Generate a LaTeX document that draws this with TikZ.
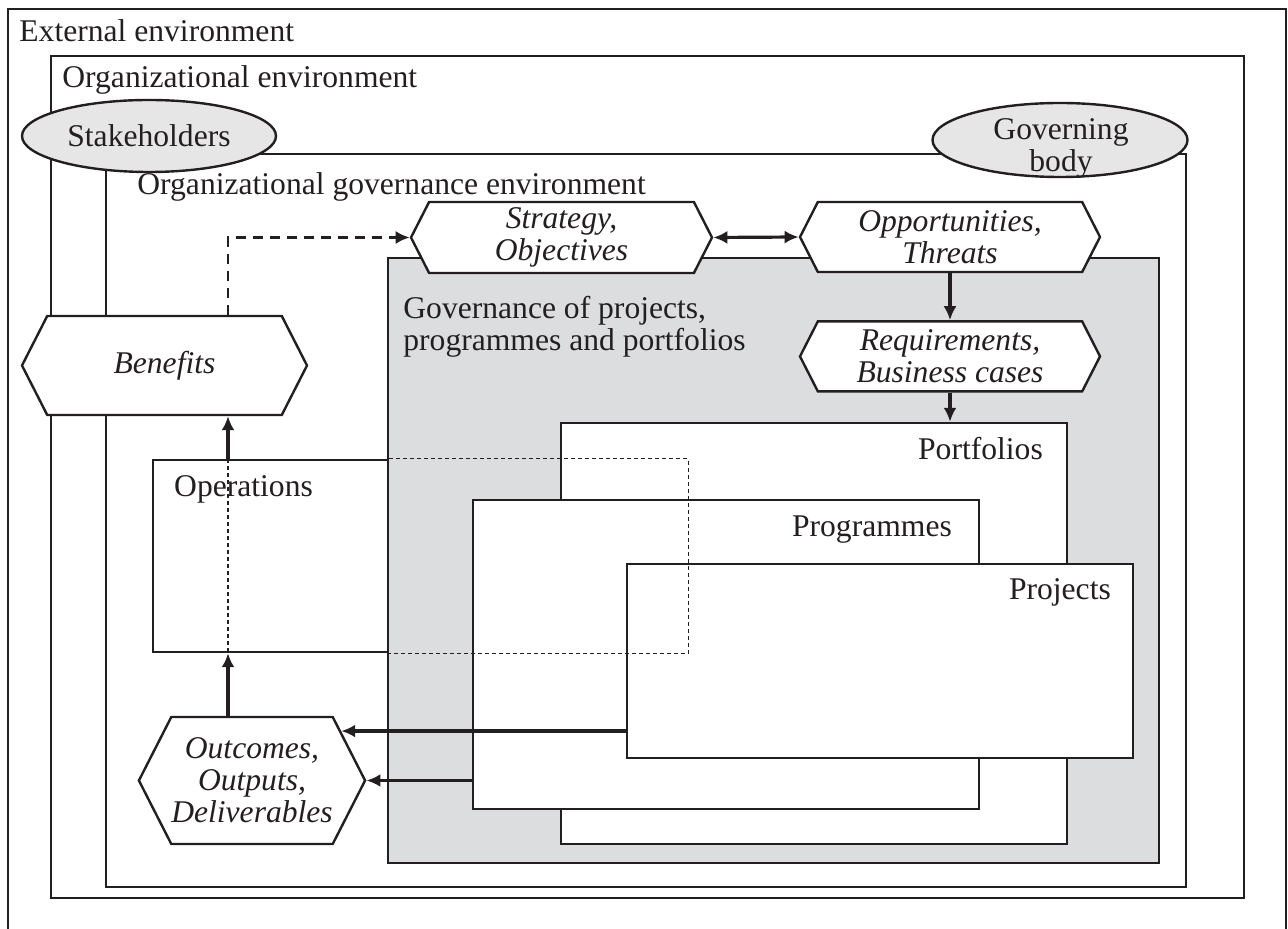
\documentclass[tikz,border=0pt]{standalone}
\usepackage{fontspec}
\setmainfont{Liberation Serif}
\usetikzlibrary{arrows.meta,calc,fit,positioning,shapes.geometric,shapes.symbols}

\definecolor{ink}{HTML}{231F20}
\definecolor{govgray}{HTML}{DCDDDF}
\definecolor{bodygray}{HTML}{E6E6E6}

\tikzset{
  envbox/.style={draw=ink, line width=1.2pt, inner sep=0pt},
  lbl/.style={inner sep=0pt, text=ink, font=\fontsize{15.8}{16}\selectfont},
  hexa/.style={signal, signal to=east and west, signal pointer angle=126,
    draw=ink, line width=1.2pt, fill=white, inner sep=0pt, align=center,
    text=ink, font=\fontsize{15.8}{16}\selectfont\itshape},
  party/.style={ellipse, draw=ink, line width=1.2pt, fill=bodygray, inner sep=0pt,
    text=ink, font=\fontsize{15.8}{16}\selectfont},
  flow/.style={->, draw=ink, line width=1.6pt},
  benefitlink/.style={flow, line width=1.2pt, dash pattern=on 5pt off 3.5pt},
  opsdash/.style={draw=ink, line width=0.6pt, dash pattern=on 2pt off 1.5pt},
}

\begin{document}
\begin{tikzpicture}[x=0.5pt, y=-0.5pt, >={Latex[length=7pt,width=6.5pt]}]
\path[use as bounding box, clip] (0,0) rectangle (1288,929);

% Environments
\node[envbox, fit={(8,9) (1286,940)}] (extenv) {};
\node[envbox, fit={(51,56) (1244,898)}] (orgenv) {};
\node[envbox, fit={(106,154) (1186,887)}] (govenv) {};
\node[envbox, fill=govgray, fit={(388,258) (1159,863)}] (govppp) {};

% Portfolios, programmes, projects
\node[envbox, fill=white, fit={(561,423) (1067,844)}] (portf) {};
\node[envbox, fill=white, fit={(473,500) (979,809)}] (progr) {};
\node[envbox, fill=white, fit={(627,564) (1133,758)}] (proj) {};

% Operations, partly dashed
\node[envbox, fill=white, fit={(153,460) (388,652)}] (ops) {};
\coordinate (spine) at (228,0);
\draw[opsdash] (ops.north east) -- ++(299,0) |- (ops.south east);
\draw[opsdash] (spine |- ops.north) -- (spine |- ops.south);

% Hexagons
\node[hexa, minimum width=142.5pt, minimum height=49.5pt] (benefits) at (164.5,365.5) {Benefits};
\node[hexa, minimum width=150.5pt, minimum height=35.5pt] (strategy) at (561.5,237.5) {Strategy,\\Objectives};
\node[hexa, minimum width=150pt, minimum height=35pt] (opport) at (950,237) {Opportunities,\\Threats};
\node[hexa, minimum width=150pt, minimum height=35pt, below=23.5pt of opport] (require) {Requirements,\\Business cases};
\node[hexa, minimum width=110pt, minimum height=63.5pt] (outcomes) at (252,780.5) {Outcomes,\\Outputs,\\Deliverables};

% Stakeholders and governing body
\node[party, minimum width=127pt, minimum height=36pt] (stake) at (149,136) {Stakeholders};
\node[party, minimum width=127.5pt, minimum height=37pt] (govbody) at (1060,140) {};
\node[lbl, align=center] (govbodytxt) at (1061,148) {Governing\\body};

% Flows
\draw[flow] (spine |- outcomes.north) -- (spine |- ops.south);
\draw[flow] (spine |- ops.north) -- (spine |- benefits.south);
\draw[benefitlink] (spine |- benefits.north) |- (strategy.west);
\draw[flow, <->] (strategy.east) -- (opport.west);
\draw[flow] (opport.south) -- (require.north);
\draw[flow] (require.south) -- (require.south |- portf.north);
\draw[flow] (proj.west |- outcomes.29) -- (outcomes.29);
\draw[flow] (progr.west |- outcomes.east) -- (outcomes.east);

% Labels
\node[lbl, anchor=base west] (extlbl) at (19,42) {External environment};
\node[lbl, anchor=base west] (orglbl) at (62,88) {Organizational environment};
\node[lbl, anchor=base west] (govlbl) at (137,195) {Organizational governance environment};
\node[lbl, anchor=north west, align=left] (govppplbl) at (403,296) {Governance of projects,\\programmes and portfolios};
\node[lbl, anchor=base east] (portflbl) at ([shift={(-25,38)}]portf.north east) {Portfolios};
\node[lbl, anchor=base east] (progrlbl) at ([shift={(-28,38)}]progr.north east) {Programmes};
\node[lbl, anchor=base east] (projlbl) at ([shift={(-23,37)}]proj.north east) {Projects};
\node[lbl, anchor=base west] (opslbl) at ([shift={(22,38)}]ops.north west) {Operations};
\end{tikzpicture}
\end{document}
